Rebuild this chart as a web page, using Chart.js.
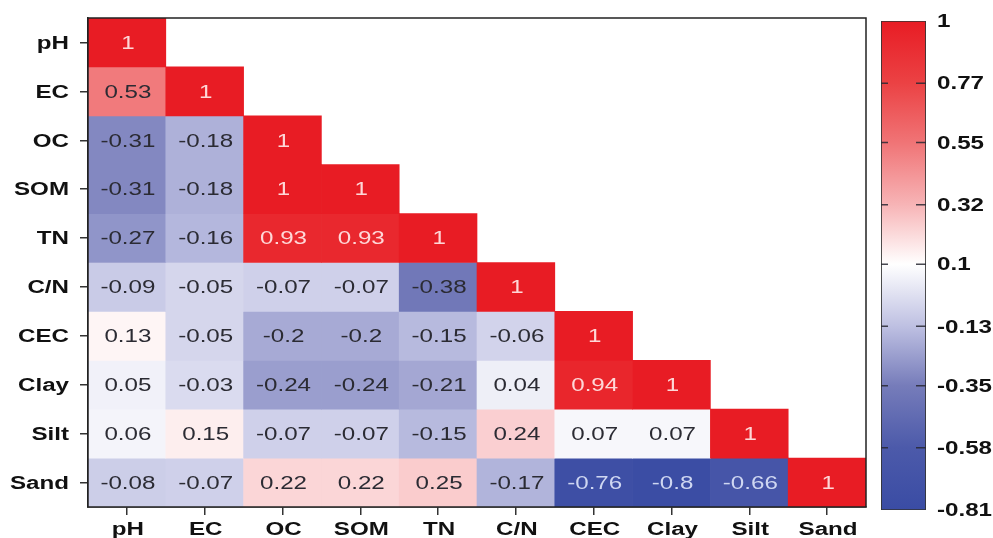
<!DOCTYPE html>
<html><head><meta charset="utf-8">
<script src="https://cdn.jsdelivr.net/npm/chart.js@4"></script>
<style>
html,body{margin:0;padding:0;background:#fff;}
#wrap{position:relative;width:993px;height:538px;overflow:hidden;}
</style></head><body>
<div id="wrap">
<div style="position:absolute;left:0;top:0;width:870px;height:538px"><canvas id="c1" width="870" height="538"></canvas></div>
<div style="position:absolute;left:870px;top:0;width:123px;height:538px"><canvas id="c2" width="123" height="538"></canvas></div>
</div>
<script>
// ---- data ----
const variables = ['pH','EC','OC','SOM','TN','C/N','CEC','Clay','Silt','Sand'];
const rowPH   = [1];
const rowEC   = [0.53, 1];
const rowOC   = [-0.31, -0.18, 1];
const rowSOM  = [-0.31, -0.18, 1, 1];
const rowTN   = [-0.27, -0.16, 0.93, 0.93, 1];
const rowCN   = [-0.09, -0.05, -0.07, -0.07, -0.38, 1];
const rowCEC  = [0.13, -0.05, -0.2, -0.2, -0.15, -0.06, 1];
const rowClay = [0.05, -0.03, -0.24, -0.24, -0.21, 0.04, 0.94, 1];
const rowSilt = [0.06, 0.15, -0.07, -0.07, -0.15, 0.24, 0.07, 0.07, 1];
const rowSand = [-0.08, -0.07, 0.22, 0.22, 0.25, -0.17, -0.76, -0.8, -0.66, 1];
const rows = [rowPH, rowEC, rowOC, rowSOM, rowTN, rowCN, rowCEC, rowClay, rowSilt, rowSand];
const colorbarTicks = [1, 0.77, 0.55, 0.32, 0.1, -0.13, -0.35, -0.58, -0.81];

// ---- colour scale (stops at the colour-bar ticks) ----
const stopColors = [
  [232,28,36],[235,66,68],[240,116,118],[247,180,182],[255,255,255],
  [190,192,226],[118,124,186],[76,90,170],[58,76,164]
];
function rgbFor(v){
  for (let k=0;k<colorbarTicks.length-1;k++){
    const a=colorbarTicks[k], b=colorbarTicks[k+1];
    if (v<=a && v>=b){
      const t=(a-v)/(a-b);
      const c1=stopColors[k], c2=stopColors[k+1];
      return c1.map((c,i)=>Math.round(c+(c2[i]-c)*t));
    }
  }
  return v>1?stopColors[0]:stopColors[stopColors.length-1];
}
function colorFor(v){const c=rgbFor(v);return `rgb(${c[0]},${c[1]},${c[2]})`;}

const SX = 1.38; // horizontal stretch of the reference text
const FONT = '"Liberation Sans", Arial, sans-serif';
function stretchedText(ctx, txt, x, y, align){
  ctx.save();
  ctx.translate(x, y);
  ctx.scale(SX, 1);
  ctx.textAlign = align;
  ctx.textBaseline = 'alphabetic';
  ctx.fillText(txt, 0, 0);
  ctx.restore();
}

// ---- heatmap ----
const datasets = rows.map((r,i)=>({
  label: variables[i],
  data: variables.map((_,j)=> j<r.length ? [i-0.5, i+0.5] : null),
  backgroundColor: variables.map((_,j)=> j<r.length ? colorFor(r[j]) : 'rgba(0,0,0,0)'),
  borderWidth: 0,
  grouped: false,
  barPercentage: 1,
  categoryPercentage: 1
}));

const heatText = {
  id: 'heatText',
  afterDatasetsDraw(chart){
    const {ctx, chartArea:ca, scales:{x,y}} = chart;
    ctx.save();
    ctx.lineWidth = 1.5; ctx.strokeStyle = '#222';
    ctx.strokeRect(ca.left, ca.top, ca.right-ca.left, ca.bottom-ca.top);
    const fs = 17.5;
    ctx.font = `${fs}px ${FONT}`;
    rows.forEach((r,i)=>{
      r.forEach((v,j)=>{
        const cx = x.getPixelForValue(j);
        const cy = y.getPixelForValue(i);
        let col = '#2b2b33';
        if (v>=0.9) col = 'rgba(255,225,225,0.95)';
        else if (v<=-0.6) col = 'rgba(215,222,245,0.95)';
        ctx.fillStyle = col;
        stretchedText(ctx, String(v), cx+1, cy+fs*0.358, 'center');
      });
    });
    const afs = 17.5;
    ctx.font = `bold ${afs}px ${FONT}`;
    ctx.fillStyle = '#111';
    variables.forEach((name,i)=>{
      const cy = y.getPixelForValue(i);
      stretchedText(ctx, name, 69, cy+afs*0.358, 'right');
      const cx = x.getPixelForValue(i);
      stretchedText(ctx, name, cx+1, 535, 'center');
    });
    ctx.restore();
  }
};

new Chart(document.getElementById('c1'), {
  type: 'bar',
  data: { labels: variables, datasets },
  options: {
    responsive: false,
    animation: false,
    devicePixelRatio: 1,
    layout: { padding: { top: 18, right: 4, left: 0, bottom: 0 } },
    plugins: { legend: { display: false }, tooltip: { enabled: false } },
    scales: {
      x: {
        type: 'category', offset: true,
        grid: { offset: false, drawOnChartArea: false, tickLength: 8, color: '#333', lineWidth: 1.5 },
        border: { display: true, color: '#222', width: 1.5 },
        ticks: { display: false },
        afterFit: s => { s.height = 31; }
      },
      y: {
        type: 'linear', reverse: true, min: -0.5, max: 9.5,
        afterBuildTicks: s => { s.ticks = variables.map((_,i)=>({value:i})); },
        grid: { drawOnChartArea: false, tickLength: 8, color: '#333', lineWidth: 1.5 },
        border: { display: true, color: '#222', width: 1.5 },
        ticks: { display: false },
        afterFit: s => { s.width = 88; }
      }
    }
  },
  plugins: [heatText]
});

// ---- colour bar ----
const cbPlugin = {
  id: 'cbPlugin',
  afterLayout(chart){
    const y = chart.scales.y;
    const top = y.getPixelForValue(colorbarTicks[0]);
    const bot = y.getPixelForValue(colorbarTicks[colorbarTicks.length-1]);
    if (!isFinite(top) || !isFinite(bot) || top===bot) return;
    const g = chart.ctx.createLinearGradient(0, top, 0, bot);
    colorbarTicks.forEach(v=>{
      g.addColorStop(Math.min(1,Math.max(0,(y.getPixelForValue(v)-top)/(bot-top))), colorFor(v));
    });
    chart.data.datasets[0].backgroundColor = g;
  },
  afterDraw(chart){
    const {ctx, chartArea:ca, scales:{y}} = chart;
    ctx.save();
    ctx.strokeStyle = 'rgba(40,40,50,0.85)'; ctx.lineWidth = 1.5;
    const fs = 17.5;
    ctx.font = `bold ${fs}px ${FONT}`;
    ctx.fillStyle = '#111';
    colorbarTicks.forEach(v=>{
      const py = y.getPixelForValue(v);
      if (v!==colorbarTicks[0] && v!==colorbarTicks[colorbarTicks.length-1]){
        ctx.beginPath();
        ctx.moveTo(ca.left, py); ctx.lineTo(ca.left+7, py);
        ctx.moveTo(ca.right-10, py); ctx.lineTo(ca.right, py);
        ctx.stroke();
      }
      stretchedText(ctx, String(v), 67, py+fs*0.358, 'left');
    });
    ctx.restore();
  }
};

new Chart(document.getElementById('c2'), {
  type: 'bar',
  data: {
    labels: ['cb'],
    datasets: [{
      data: [[colorbarTicks[colorbarTicks.length-1], colorbarTicks[0]]],
      backgroundColor: '#ffffff',
      borderColor: '#333', borderWidth: 1.2, borderSkipped: false,
      barPercentage: 1, categoryPercentage: 1
    }]
  },
  options: {
    responsive: false, animation: false, devicePixelRatio: 1,
    layout: { padding: { top: 21, bottom: 28, left: 11, right: 0 } },
    plugins: { legend: { display: false }, tooltip: { enabled: false } },
    scales: {
      x: { display: false },
      y: {
        type: 'linear', position: 'right', min: -0.81, max: 1,
        grid: { display: false }, border: { display: false },
        ticks: { display: false },
        afterFit: s => { s.width = 67; }
      }
    }
  },
  plugins: [cbPlugin]
});
</script>
</body></html>
